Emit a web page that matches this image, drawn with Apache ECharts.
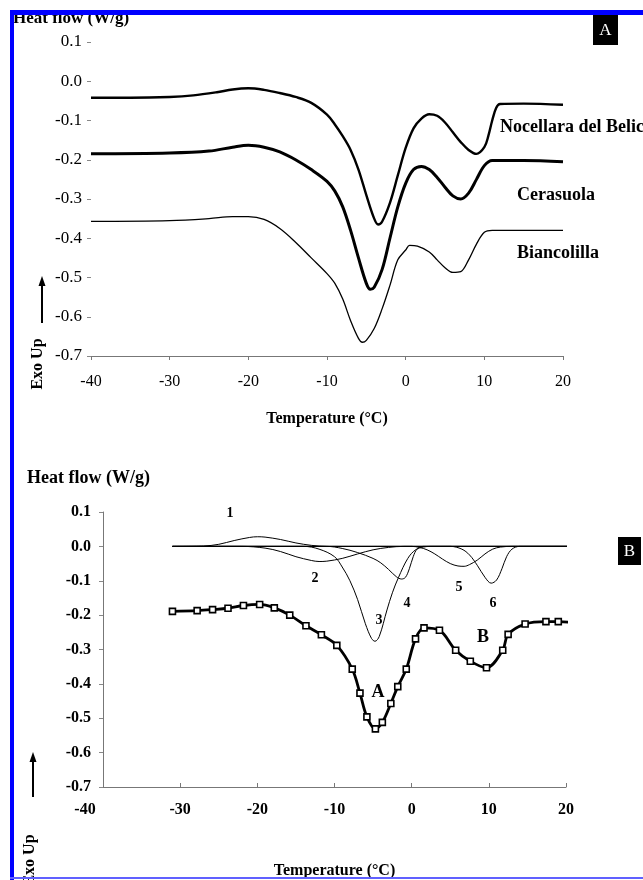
<!DOCTYPE html>
<html><head><meta charset="utf-8">
<script src="https://cdn.jsdelivr.net/npm/echarts@6/dist/echarts.min.js"></script>
<style>html,body{margin:0;padding:0;background:#fff}#c{width:643px;height:880px}</style>
</head><body><div id="c"></div><script>
// ---------- DATA ----------
// Panel A: DSC cooling curves [temperature °C, heat flow W/g]
const nocellara = [[-40,-0.042],[-35,-0.042],[-30,-0.040],[-27,-0.036],[-24,-0.028],[-22,-0.021],[-20,-0.018],[-18,-0.022],[-16,-0.030],[-14,-0.040],[-12,-0.055],[-10,-0.085],[-9,-0.110],[-8,-0.140],[-7,-0.175],[-6,-0.225],[-5,-0.290],[-4,-0.350],[-3.5,-0.365],[-3,-0.358],[-2,-0.310],[-1,-0.240],[0,-0.170],[1,-0.120],[2,-0.095],[3,-0.084],[4,-0.088],[5,-0.105],[6,-0.130],[7,-0.155],[8,-0.175],[9,-0.185],[10,-0.168],[10.5,-0.140],[11,-0.100],[11.5,-0.068],[12,-0.058],[15,-0.057],[20,-0.060]];
const cerasuola = [[-40,-0.185],[-30,-0.183],[-25,-0.178],[-22,-0.168],[-20,-0.163],[-18,-0.168],[-16,-0.180],[-14,-0.200],[-12,-0.225],[-10,-0.255],[-9,-0.280],[-8,-0.320],[-7,-0.380],[-6,-0.450],[-5,-0.515],[-4.5,-0.530],[-4,-0.525],[-3,-0.480],[-2,-0.400],[-1,-0.320],[0,-0.260],[1,-0.225],[2,-0.217],[3,-0.225],[4,-0.245],[5,-0.270],[6,-0.292],[7,-0.300],[8,-0.285],[9,-0.250],[10,-0.215],[11,-0.202],[15,-0.202],[20,-0.205]];
const biancolilla = [[-40,-0.357],[-30,-0.355],[-25,-0.350],[-22,-0.345],[-20,-0.345],[-18,-0.352],[-16,-0.375],[-14,-0.410],[-12,-0.450],[-10,-0.490],[-9,-0.515],[-8,-0.555],[-7,-0.610],[-6,-0.655],[-5.5,-0.665],[-5,-0.660],[-4,-0.630],[-3,-0.580],[-2,-0.520],[-1,-0.455],[0,-0.430],[0.5,-0.418],[1.5,-0.420],[3,-0.435],[4,-0.455],[5,-0.475],[6,-0.487],[7,-0.485],[8,-0.455],[9,-0.415],[10,-0.385],[11,-0.380],[20,-0.380]];

// Panel B: measured curve (markers) and deconvoluted peaks 1–6
const measured = [[-31,-0.189],[-27.8,-0.187],[-25.8,-0.184],[-23.8,-0.180],[-21.8,-0.172],[-19.7,-0.169],[-17.8,-0.179],[-15.8,-0.200],[-13.7,-0.231],[-11.7,-0.257],[-9.7,-0.288],[-7.7,-0.357],[-6.7,-0.427],[-5.8,-0.496],[-4.7,-0.531],[-3.8,-0.512],[-2.7,-0.457],[-1.8,-0.408],[-0.7,-0.357],[0.5,-0.269],[1.6,-0.237],[3.6,-0.244],[5.7,-0.302],[7.6,-0.334],[9.7,-0.353],[11.8,-0.302],[12.5,-0.256],[14.7,-0.226],[17.4,-0.219],[19.0,-0.219]];
const measuredEnd = [20.7,-0.221];
const peak1 = [[-31,0],[-27,0.001],[-25,0.006],[-23,0.017],[-21,0.026],[-20,0.028],[-19,0.027],[-17,0.020],[-15,0.010],[-13,0.003],[-11,0],[20.5,0]];
const peak2 = [[-31,0],[-22,0],[-19,-0.005],[-17,-0.015],[-15,-0.030],[-13,-0.041],[-12,-0.044],[-11,-0.043],[-9,-0.035],[-7,-0.022],[-5,-0.010],[-3,-0.003],[-1,0],[20.5,0]];
const peak3 = [[-31,0],[-14,0],[-12,-0.008],[-10,-0.030],[-9,-0.060],[-8,-0.100],[-7,-0.155],[-6,-0.225],[-5.2,-0.268],[-4.75,-0.276],[-4.2,-0.262],[-3.2,-0.185],[-2.5,-0.135],[-1.7,-0.090],[-0.5,-0.035],[0.5,-0.010],[1.5,-0.002],[2.5,0],[20.5,0]];
const peak4 = [[-31,0],[-11,0],[-9,-0.006],[-7,-0.018],[-5,-0.035],[-4,-0.048],[-3,-0.067],[-2,-0.088],[-1.3,-0.095],[-0.8,-0.090],[-0.3,-0.065],[0.2,-0.030],[0.7,-0.008],[1.5,0],[20.5,0]];
const peak5 = [[-31,0],[0,0],[1,-0.003],[2,-0.010],[3,-0.022],[4,-0.037],[5,-0.050],[6,-0.057],[6.8,-0.058],[7.5,-0.053],[8.5,-0.040],[9.5,-0.022],[10.5,-0.008],[11.5,-0.002],[13,0],[20.5,0]];
const peak6 = [[-31,0],[5,0],[6.5,-0.008],[7.5,-0.025],[8.5,-0.055],[9.5,-0.090],[10.3,-0.107],[11,-0.098],[11.7,-0.065],[12.3,-0.030],[13,-0.008],[14,0],[20.5,0]];

const xMin = -40, xMax = 20, xStep = 10;
const yMin = -0.7, yMax = 0.1, yStep = 0.1;
const yLabelFmt = v => v.toFixed(1);

// ---------- CHART ----------
const SERIF = '"Liberation Serif", "Times New Roman", serif';
const chart = echarts.init(document.getElementById('c'), null, {renderer: 'canvas'});

function xAxisCfg(gi, name, labelMargin, nameGap, bold, tickInside) {
  const weight = bold ? 'bold' : 'normal';
  return {
    type: 'value', gridIndex: gi, min: xMin, max: xMax, interval: xStep,
    name: name, nameLocation: 'middle', nameGap: nameGap,
    nameTextStyle: {fontFamily: SERIF, fontWeight: 'bold', fontSize: 16, color: '#000'},
    axisLine: {show: true, onZero: false, lineStyle: {color: '#777', width: 1}},
    axisTick: {show: true, inside: tickInside, length: 4, lineStyle: {color: '#777'}},
    axisLabel: {fontFamily: SERIF, fontSize: 16, color: '#000', margin: labelMargin, fontWeight: weight,
      formatter: bold ? (v => v === xMin ? '{m|' + v + '}' : String(v)) : null,
      rich: {m: {fontFamily: SERIF, fontSize: 16, fontWeight: weight, color: '#000', padding: [0, 36, 0, 0]}}},
    splitLine: {show: false}
  };
}
function yAxisCfg(gi, showLine, labelMargin, bold, size) {
  return {
    type: 'value', gridIndex: gi, min: yMin, max: yMax, interval: yStep,
    axisLine: {show: showLine, onZero: false, lineStyle: {color: '#777', width: 1}},
    axisTick: {show: true, length: 4, lineStyle: {color: '#888'}},
    axisLabel: {fontFamily: SERIF, fontSize: size, color: '#000', margin: labelMargin, formatter: yLabelFmt, fontWeight: bold ? 'bold' : 'normal'},
    splitLine: {show: false}
  };
}
const lineSeries = (data, xi, width, extra) => Object.assign({
  type: 'line', xAxisIndex: xi, yAxisIndex: xi, data: data, smooth: 0.35,
  showSymbol: false, symbol: 'none', silent: true, animation: false,
  lineStyle: {color: '#000', width: width}
}, extra || {});

const txt = (x, y, text, font, extra) => ({
  type: 'text', x: x, y: y, z: 10,
  style: Object.assign({text: text, font: font, fill: '#000', textAlign: 'left', textVerticalAlign: 'middle'}, extra || {})
});
const BOLD16 = 'bold 16px ' + SERIF;
const BOLD17 = 'bold 17px ' + SERIF;
const BOLD18 = 'bold 18px ' + SERIF;

const option = {
  animation: false,
  backgroundColor: '#fff',
  grid: [
    {left: 91, right: 80, top: 42, height: 314},
    {left: 103, right: 77, top: 512, height: 288}
  ],
  xAxis: [
    xAxisCfg(0, 'Temperature (°C)', 18, 55, false, false),
    xAxisCfg(1, 'Temperature (°C)', 15, 76, true, true)
  ],
  yAxis: [
    yAxisCfg(0, false, 9, false, 17),
    yAxisCfg(1, true, 12, true, 16)
  ],
  series: [
    lineSeries(nocellara, 0, 2.4),
    lineSeries(cerasuola, 0, 3),
    lineSeries(biancolilla, 0, 1.3),
    lineSeries(peak1, 1, 1),
    lineSeries(peak2, 1, 1),
    lineSeries(peak3, 1, 1),
    lineSeries(peak4, 1, 1),
    lineSeries(peak5, 1, 1),
    lineSeries(peak6, 1, 1),
    lineSeries(measured.concat([{value: measuredEnd, symbol: 'none'}]), 1, 2.8, {
      showSymbol: true, symbol: 'rect', symbolSize: 6, clip: false,
      itemStyle: {color: '#fff', borderColor: '#000', borderWidth: 1.6}
    })
  ],
  graphic: [
    // headings
    txt(13, 19, 'Heat flow (W/g)', BOLD17),
    txt(27, 478, 'Heat flow (W/g)', BOLD18),
    // curve names panel A
    txt(500, 127, 'Nocellara del Belice', BOLD18),
    txt(517, 195, 'Cerasuola', BOLD18),
    txt(517, 253, 'Biancolilla', BOLD18),
    // peak labels panel B
    txt(230, 513, '1', 'bold 14px ' + SERIF, {textAlign: 'center'}),
    txt(315, 578, '2', 'bold 14px ' + SERIF, {textAlign: 'center'}),
    txt(379, 620, '3', 'bold 14px ' + SERIF, {textAlign: 'center'}),
    txt(407, 603, '4', 'bold 14px ' + SERIF, {textAlign: 'center'}),
    txt(459, 587, '5', 'bold 14px ' + SERIF, {textAlign: 'center'}),
    txt(493, 603, '6', 'bold 14px ' + SERIF, {textAlign: 'center'}),
    txt(378, 692, 'A', BOLD18, {textAlign: 'center'}),
    txt(483, 637, 'B', BOLD18, {textAlign: 'center'}),
    // Exo Up labels + arrows
    {type: 'text', x: 38, y: 364, rotation: Math.PI / 2, z: 10,
      style: {text: 'Exo Up', font: BOLD16, fill: '#000', textAlign: 'center', textVerticalAlign: 'middle'}},
    {type: 'line', z: 10, shape: {x1: 42, y1: 323, x2: 42, y2: 283}, style: {stroke: '#000', lineWidth: 2}},
    {type: 'polygon', z: 10, shape: {points: [[42, 276], [38.5, 286], [45.5, 286]]}, style: {fill: '#000'}},
    {type: 'text', x: 30, y: 860, rotation: Math.PI / 2, z: 10,
      style: {text: 'Exo Up', font: BOLD16, fill: '#000', textAlign: 'center', textVerticalAlign: 'middle'}},
    {type: 'line', z: 10, shape: {x1: 33, y1: 797, x2: 33, y2: 759}, style: {stroke: '#000', lineWidth: 2}},
    {type: 'polygon', z: 10, shape: {points: [[33, 752], [29.5, 762], [36.5, 762]]}, style: {fill: '#000'}},
    // panel tags
    {type: 'rect', z: 10, shape: {x: 593, y: 15, width: 25, height: 30}, style: {fill: '#000'}},
    txt(605.5, 31, 'A', '17px ' + SERIF, {fill: '#fff', textAlign: 'center'}),
    {type: 'rect', z: 10, shape: {x: 618, y: 537, width: 23, height: 28}, style: {fill: '#000'}},
    txt(629.5, 552, 'B', '17px ' + SERIF, {fill: '#fff', textAlign: 'center'}),
    // blue frame
    {type: 'rect', z: 20, shape: {x: 10, y: 10, width: 633, height: 5}, style: {fill: '#0000ff'}},
    {type: 'rect', z: 20, shape: {x: 10, y: 10, width: 4, height: 870}, style: {fill: '#0000ff'}},
    {type: 'rect', z: 20, shape: {x: 10, y: 877, width: 633, height: 2}, style: {fill: '#6060ff'}}
  ]
};
chart.setOption(option);
</script></body></html>
